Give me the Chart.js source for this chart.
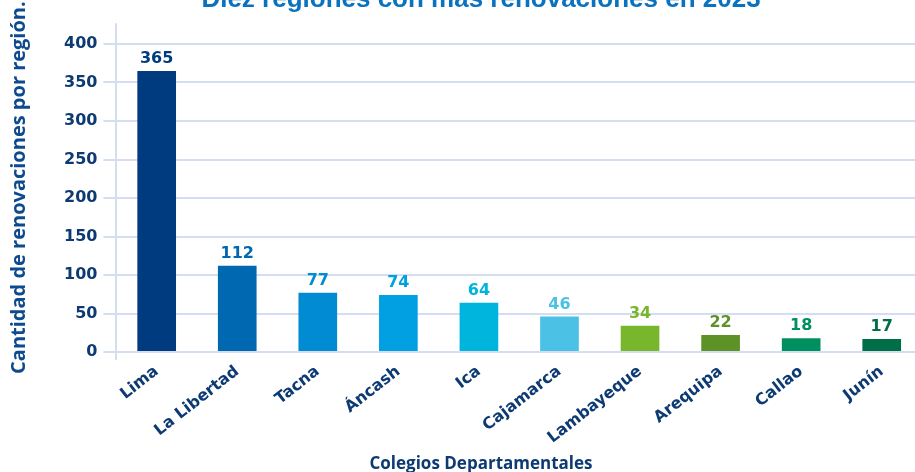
<!DOCTYPE html>
<html>
<head>
<meta charset="utf-8">
<script src="https://cdn.jsdelivr.net/npm/chart.js@4"></script>
<style>
  html, body { margin: 0; padding: 0; background: #fff; overflow: hidden; }
  #wrap { position: absolute; left: 0; top: -20px; width: 962px; height: 492px; }
</style>
</head>
<body>
<div id="wrap"><canvas id="renovChart"></canvas></div>
<script>
var regiones = ["Lima", "La Libertad", "Tacna", "Áncash", "Ica", "Cajamarca", "Lambayeque", "Arequipa", "Callao", "Junín"]
var renovaciones = [365, 112, 77, 74, 64, 46, 34, 22, 18, 17]
var coloresBarras = ["#003b7f", "#0068b1", "#008bd2", "#00a0e2", "#00b5dd", "#4bc1e6", "#78b62b", "#5f9226", "#009060", "#006e47"]
var ticksY = [0, 50, 100, 150, 200, 250, 300, 350, 400]

var navy = "#0d3a72"
var gridColor = "#d5def0"
var tituloX = "Colegios Departamentales"

// etiquetas de valor encima de cada barra + titulo del eje x centrado en el lienzo
var valoresPlugin = {
  id: "valores",
  afterDatasetsDraw: function (chart) {
    var ctx = chart.ctx
    var meta = chart.getDatasetMeta(0)
    ctx.save()
    ctx.font = "bold 16px 'DejaVu Sans'"
    ctx.textAlign = "center"
    ctx.textBaseline = "bottom"
    meta.data.forEach(function (bar, i) {
      ctx.fillStyle = coloresBarras[i]
      ctx.fillText(renovaciones[i], bar.x, bar.y - 4)
    })
    ctx.fillStyle = navy
    ctx.font = "bold 17px 'Open Sans'"
    ctx.textBaseline = "middle"
    ctx.fillText(tituloX, chart.width / 2, chart.scales.x.bottom - 8)
    ctx.restore()
  },
}

var ctx = document.getElementById("renovChart").getContext("2d")
var myChart = new Chart(ctx, {
  type: "bar",
  data: {
    labels: regiones,
    datasets: [
      {
        data: renovaciones,
        backgroundColor: coloresBarras,
        barPercentage: 0.48,
        categoryPercentage: 1,
      },
    ],
  },
  options: {
    responsive: true,
    maintainAspectRatio: false,
    animation: false,
    layout: {
      padding: 0,
    },
    plugins: {
      legend: { display: false },
      tooltip: { enabled: false },
      title: {
        display: true,
        text: "Diez regiones con más renovaciones en 2023",
        color: "#0b72bf",
        font: { size: 26, weight: "bold", family: "'Liberation Sans', Arial, sans-serif" },
        padding: { top: 4, bottom: 8 },
      },
    },
    scales: {
      x: {
        grid: {
          color: function (c) {
            return c.index === 0 ? gridColor : "transparent"
          },
          lineWidth: 2,
          tickLength: 8,
        },
        border: { display: false },
        ticks: {
          color: navy,
          font: { size: 16, weight: "bold", family: "'DejaVu Sans'" },
          minRotation: 38,
          maxRotation: 38,
          autoSkip: false,
          padding: 2,
        },
        title: {
          display: true,
          text: tituloX,
          color: "transparent",
          font: { size: 17, weight: "bold", family: "'Open Sans'" },
          padding: { top: 2, bottom: 0 },
        },
      },
      y: {
        min: 0,
        max: 427,
        afterBuildTicks: function (scale) {
          scale.ticks = ticksY.map(function (v) {
            return { value: v }
          })
        },
        grid: {
          color: gridColor,
          lineWidth: 2,
          tickLength: 13,
        },
        border: { display: false },
        ticks: {
          color: navy,
          font: { size: 16, weight: "bold", family: "'DejaVu Sans'" },
          padding: 6,
        },
        title: {
          display: true,
          text: "Cantidad de renovaciones por región.",
          color: "#0d4a8e",
          font: { size: 20, weight: "bold", family: "'Open Sans'" },
          padding: { top: 7, bottom: 27 },
        },
      },
      // eje vacio a la derecha, solo reserva espacio
      yDer: {
        position: "right",
        grid: { display: false },
        border: { display: false },
        ticks: { display: false },
        afterFit: function (scale) {
          scale.width = 40
        },
      },
    },
  },
  plugins: [valoresPlugin],
})
</script>
</body>
</html>
